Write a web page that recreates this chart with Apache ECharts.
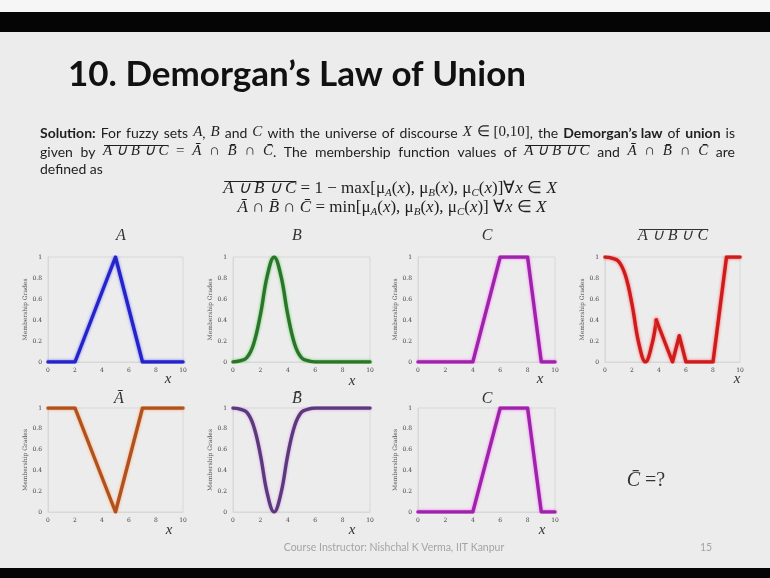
<!DOCTYPE html>
<html>
<head>
<meta charset="utf-8">
<script src="https://cdn.jsdelivr.net/npm/echarts@6/dist/echarts.min.js"></script>
<style>
  html, body { margin: 0; padding: 0; background: #ffffff; }
  #chart { width: 770px; height: 578px; }
</style>
</head>
<body>
<div id="chart"></div>
<script>
// Axis ticks shared by every panel
const xTicks = [0, 2, 4, 6, 8, 10];
const yTicks = [0, 0.2, 0.4, 0.6, 0.8, 1];

// Fuzzy set A (triangle)
const setAx = [0, 2, 5, 7, 10];
const setAy = [0, 0, 1, 0, 0];

// Fuzzy set B (bell shaped)
const setBx = [0, 0.5, 1, 1.5, 2, 2.5, 3, 3.5, 4, 4.5, 5, 5.5, 6, 7, 8, 9, 10];
const setBy = [0.00, 0.01, 0.04, 0.17, 0.45, 0.82, 1.00, 0.82, 0.45, 0.17, 0.04, 0.01, 0, 0, 0, 0, 0];

// Fuzzy set C (trapezoid)
const setCx = [0, 4, 6, 8, 9, 10];
const setCy = [0, 0, 1, 1, 0, 0];

// Complement of A ∪ B ∪ C : curved part, then straight part
const unionCompCurveX = [0, 0.5, 1, 1.5, 2, 2.5, 3, 3.5, 3.8];
const unionCompCurveY = [1.00, 0.99, 0.96, 0.83, 0.55, 0.18, 0.00, 0.18, 0.40];
const unionCompLineX = [3.8, 5, 5.5, 6, 8, 9, 10];
const unionCompLineY = [0.40, 0, 0.25, 0, 0, 1, 1];

// Complement of A
const compAx = [0, 2, 5, 7, 10];
const compAy = [1, 1, 0, 1, 1];

// Complement of B
const compBx = [0, 0.5, 1, 1.5, 2, 2.5, 3, 3.5, 4, 4.5, 5, 5.5, 6, 7, 8, 9, 10];
const compBy = [1.00, 0.99, 0.96, 0.83, 0.55, 0.18, 0.00, 0.18, 0.55, 0.83, 0.96, 0.99, 1, 1, 1, 1, 1];

const pair = (xs, ys) => xs.map((x, i) => [x, ys[i]]);

// Panel frames: [left, top, width, height]
const panels = [
  [48, 257, 135, 105],
  [233, 257, 137, 105],
  [418, 257, 137, 105],
  [605, 257, 135, 105],
  [48, 408, 135, 104],
  [233, 408, 137, 104],
  [418, 408, 137, 104]
];

const tickFont = { fontFamily: 'DejaVu Serif', fontSize: 6, color: '#444' };

const grids = panels.map(p => ({
  left: p[0], top: p[1], width: p[2], height: p[3],
  show: true, borderColor: '#d8d8d8', borderWidth: 1, backgroundColor: 'transparent'
}));

const xAxes = panels.map((p, i) => ({
  type: 'value', gridIndex: i,
  min: xTicks[0], max: xTicks[xTicks.length - 1], interval: xTicks[1] - xTicks[0],
  axisLine: { show: true, lineStyle: { color: '#d8d8d8', width: 1 } },
  axisTick: { show: false },
  splitLine: { show: false },
  axisLabel: Object.assign({ margin: 5 }, tickFont)
}));

const yAxes = panels.map((p, i) => ({
  type: 'value', gridIndex: i,
  min: yTicks[0], max: yTicks[yTicks.length - 1], interval: yTicks[1] - yTicks[0],
  axisLine: { show: true, lineStyle: { color: '#d8d8d8', width: 1 } },
  axisTick: { show: false },
  splitLine: { show: false },
  axisLabel: Object.assign({ margin: 6 }, tickFont),
  name: 'Membership Grades', nameLocation: 'middle', nameGap: 17, nameRotate: 90,
  nameTextStyle: { fontFamily: 'DejaVu Serif', fontSize: 6, color: '#555' }
}));

function curve(idx, xs, ys, dark, glow, smooth) {
  return {
    type: 'line', xAxisIndex: idx, yAxisIndex: idx,
    data: pair(xs, ys), showSymbol: false, smooth: smooth ? 0.4 : false,
    lineStyle: { color: dark, width: 3.4, shadowColor: glow, shadowBlur: 3, cap: 'round', join: 'round' },
    silent: true, animation: false
  };
}

const series = [
  curve(0, setAx, setAy, '#2424c8', '#7070ff', false),
  curve(1, setBx, setBy, '#2c742c', '#5fd35f', true),
  curve(2, setCx, setCy, '#9c24a8', '#ff66ff', false),
  curve(3, unionCompCurveX, unionCompCurveY, '#cc1c1c', '#ff5a5a', true),
  curve(3, unionCompLineX, unionCompLineY, '#cc1c1c', '#ff5a5a', false),
  curve(4, compAx, compAy, '#b0521f', '#ffa566', false),
  curve(5, compBx, compBy, '#5b3a7c', '#d799ea', true),
  curve(6, setCx, setCy, '#9c24a8', '#ff66ff', false)
];

// ---- Slide text: simple inline layout with measured runs ----
const measureCtx = document.createElement('canvas').getContext('2d');
function textWidth(str, font) { measureCtx.font = font; return measureCtx.measureText(str).width; }

const INK = '#1e1e1e';
const runStyles = {
  n: { font: '14px Lato', dy: 0 },
  b: { font: 'bold 14px Lato', dy: 0 },
  m: { font: 'italic 15px "Liberation Serif"', dy: -1 },
  r: { font: '15px "Liberation Serif"', dy: -1 },
  o: { font: 'italic 15px "Liberation Serif"', dy: -1, over: true },
  M: { font: 'italic 17px "Liberation Serif"', dy: 0 },
  R: { font: '17px "Liberation Serif"', dy: 0 },
  O: { font: 'italic 17px "Liberation Serif"', dy: 0, over: true },
  S: { font: 'italic 11px "Liberation Serif"', dy: 8 },
  T: { font: 'italic 16px "Liberation Serif"', dy: 0 },
  U: { font: 'italic 16px "Liberation Serif"', dy: 0, over: true },
  Q: { font: 'italic 20px "Liberation Serif"', dy: 0 },
  q: { font: '20px "Liberation Serif"', dy: 0 },
  f: { font: '10.5px Lato', dy: 0 }
};

function parseRuns(str) {
  const runs = [];
  const re = /\{(\w)\|([^}]*)\}/g;
  let last = 0, m;
  const pushPlain = t => t.split(/( )/).filter(s => s.length).forEach(s => runs.push({ k: 'n', t: s, space: s === ' ' }));
  while ((m = re.exec(str))) {
    if (m.index > last) pushPlain(str.slice(last, m.index));
    runs.push({ k: m[1], t: m[2], space: false });
    last = re.lastIndex;
  }
  if (last < str.length) pushPlain(str.slice(last));
  return runs;
}

// Lays out one line; align: 'left' | 'center' | 'justify'
function lineElements(x, top, str, opts) {
  opts = opts || {};
  const runs = parseRuns(str);
  runs.forEach(r => { r.w = textWidth(r.t, runStyles[r.k].font); });
  const natural = runs.reduce((s, r) => s + r.w, 0);
  let start = x;
  let gapExtra = 0;
  if (opts.align === 'center') start = x - natural / 2;
  if (opts.align === 'justify') {
    const gaps = runs.filter(r => r.space).length;
    gapExtra = gaps ? (opts.width - natural) / gaps : 0;
  }
  const els = [];
  let cx = start;
  runs.forEach(r => {
    const st = runStyles[r.k];
    if (!r.space) {
      els.push({ type: 'text', left: cx, top: top + st.dy, silent: true,
        style: { text: r.t, font: st.font, fill: opts.color || INK } });
      if (st.over) {
        els.push({ type: 'line', silent: true,
          shape: { x1: cx + 1, y1: top + st.dy + 1.5, x2: cx + r.w, y2: top + st.dy + 1.5 },
          style: { stroke: opts.color || INK, lineWidth: 1 } });
      }
    }
    cx += r.w + (r.space ? gapExtra : 0);
  });
  return els;
}

const mu = k => '{R|μ}{S|' + k + '}{R|(}{M|x}{R|)}';

const graphics = [
  { type: 'rect', shape: { x: 0, y: 0, width: 770, height: 578 }, style: { fill: '#ececec' }, silent: true, z: -10 },
  { type: 'rect', shape: { x: 0, y: 0, width: 770, height: 12 }, style: { fill: '#f6f6f6' }, silent: true, z: -9 },
  { type: 'rect', shape: { x: 0, y: 12, width: 770, height: 20 }, style: { fill: '#050505' }, silent: true, z: -9 },
  { type: 'rect', shape: { x: 0, y: 568, width: 770, height: 10 }, style: { fill: '#050505' }, silent: true, z: -9 },

  { type: 'text', left: 68, top: 57, silent: true,
    style: { text: '10. Demorgan\u2019s Law of Union', font: 'bold 35px Lato', fill: '#111' } }
];

graphics.push(...lineElements(40, 126,
  '{b|Solution:} For fuzzy sets {m|A}, {m|B} and {m|C} with the universe of discourse {m|X} {r|∈ [0,10]}, the {b|Demorgan\u2019s law} of {b|union} is',
  { align: 'justify', width: 695 }));
graphics.push(...lineElements(40, 145,
  'given by {o|A ∪ B ∪ C} {r|=} {m|Ā} {r|∩} {m|B̄} {r|∩} {m|C̄}. The membership function values of {o|A ∪ B ∪ C} and {m|Ā} {r|∩} {m|B̄} {r|∩} {m|C̄} are',
  { align: 'justify', width: 695 }));
graphics.push(...lineElements(40, 162, 'defined as'));

graphics.push(...lineElements(390, 180,
  '{O|A ∪ B ∪ C}{R| = 1 − max[}' + mu('A') + '{R|, }' + mu('B') + '{R|, }' + mu('C') + '{R|]∀}{M|x}{R| ∈ }{M|X}',
  { align: 'center' }));
graphics.push(...lineElements(392, 199,
  '{M|Ā}{R| ∩ }{M|B̄}{R| ∩ }{M|C̄}{R| = min[}' + mu('A') + '{R|, }' + mu('B') + '{R|, }' + mu('C') + '{R|] ∀}{M|x}{R| ∈ }{M|X}',
  { align: 'center' }));

// Panel titles
graphics.push(...lineElements(121, 228, '{T|A}', { align: 'center', color: '#333' }));
graphics.push(...lineElements(297, 228, '{T|B}', { align: 'center', color: '#333' }));
graphics.push(...lineElements(487, 228, '{T|C}', { align: 'center', color: '#333' }));
graphics.push(...lineElements(673, 228, '{U|A ∪ B ∪ C}', { align: 'center', color: '#333' }));
graphics.push(...lineElements(119, 391, '{T|Ā}', { align: 'center', color: '#333' }));
graphics.push(...lineElements(297, 391, '{T|B̄}', { align: 'center', color: '#333' }));
graphics.push(...lineElements(487, 391, '{T|C}', { align: 'center', color: '#333' }));

// x-axis names
[[168, 373], [352, 375], [540, 373], [737, 373], [169, 524], [352, 524], [542, 524]].forEach(p => {
  graphics.push(...lineElements(p[0], p[1], '{m|x}', { align: 'center', color: '#333' }));
});

graphics.push(...lineElements(646, 471, '{Q|C̄}{q| =?}', { align: 'center', color: '#333' }));

graphics.push(...lineElements(394, 542, '{f|Course Instructor: Nishchal K Verma, IIT Kanpur}', { align: 'center', color: '#a4a4a4' }));
graphics.push(...lineElements(706, 542, '{f|15}', { align: 'center', color: '#a4a4a4' }));

const chart = echarts.init(document.getElementById('chart'), null, { renderer: 'canvas' });
chart.setOption({
  animation: false,
  grid: grids,
  xAxis: xAxes,
  yAxis: yAxes,
  series: series,
  graphic: graphics
});
</script>
</body>
</html>
